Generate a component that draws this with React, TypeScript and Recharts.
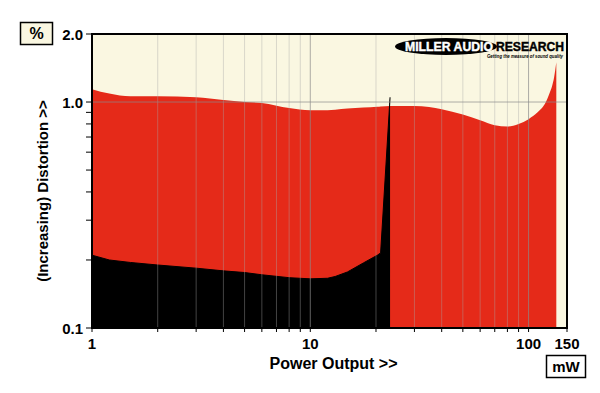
import { Area, CartesianGrid, ComposedChart, ReferenceLine, XAxis, YAxis } from "recharts"

// power output in mW (log axis)
const powerMw = [
    1, 1.2, 1.5, 2, 3, 4, 5, 6, 8, 10, 12, 13, 14.8, 17.5, 20.3, 21, 23.2, 25, 30, 35, 40, 50,
    60, 70, 80, 90, 100, 110, 120, 125, 128, 131, 134,
]

// upper (red) distortion trace, %
const thdUpper = [
    1.14, 1.09, 1.06, 1.06, 1.05, 1.02, 1.0, 0.99, 0.94, 0.92, 0.92, 0.925, 0.935, 0.945, 0.952, 0.955, 0.96, 0.96,
    0.96, 0.95, 0.93, 0.88, 0.83, 0.79, 0.78, 0.8, 0.84, 0.9, 1.0, 1.1, 1.17, 1.29, 1.5,
]

// lower (black) distortion trace, %, stops at the clipping spike
const thdLower = [
    0.21, 0.2, 0.195, 0.19, 0.184, 0.179, 0.176, 0.172, 0.167, 0.165, 0.166, 0.169, 0.177, 0.194, 0.21, 0.215, 1.05,
]

const xTicks = [1, 2, 3, 4, 5, 6, 7, 8, 9, 10, 20, 30, 40, 50, 60, 70, 80, 90, 100, 150]
const xLabels: Record<number, string> = { 1: "1", 10: "10", 100: "100", 150: "150" }
const yTicks = [0.1, 0.2, 0.3, 0.4, 0.5, 0.6, 0.7, 0.8, 0.9, 1, 2]
const yLabels: Record<number, string> = { 0.1: "0.1", 1: "1.0", 2.0: "2.0" }
const minorGrid = [2, 3, 4, 5, 6, 7, 8, 9, 20, 30, 40, 50, 60, 70, 80, 90]
const majorGrid = [10, 100]

const FONT = "'Liberation Sans', Arial, sans-serif"
const CREAM = "#faf7e1"
const RED = "#e52a19"

const data = powerMw.map((p, i) => ({
    p,
    upper: thdUpper[i],
    lower: i < thdLower.length ? thdLower[i] : null,
}))

// x tick: short mark under the axis, label only on decades
const XTick = (props: any) => {
    const { x, y, payload } = props
    const label = xLabels[payload.value]
    return (
        <g>
            <line x1={x} x2={x} y1={y - 10} y2={y - 6} stroke="#000" strokeWidth={1} />
            {label && (
                <text x={x} y={y + 11} textAnchor="middle" fontFamily={FONT} fontWeight="bold" fontSize={15} fill="#000">
                    {label}
                </text>
            )}
        </g>
    )
}

const YTick = (props: any) => {
    const { x, y, payload } = props
    const label = yLabels[payload.value]
    return (
        <g>
            <line x1={x + 3} x2={x + 8} y1={y} y2={y} stroke="#000" strokeWidth={1} />
            {label && (
                <text x={x} y={y + 5.5} textAnchor="end" fontFamily={FONT} fontWeight="bold" fontSize={15} fill="#000">
                    {label}
                </text>
            )}
        </g>
    )
}

const YTitle = () => (
    <text
        transform="translate(42,191) rotate(-90)"
        textAnchor="middle"
        dominantBaseline="central"
        fontFamily={FONT}
        fontWeight="bold"
        fontSize={15}
        fill="#000"
    >
        (Increasing) Distortion &gt;&gt;
    </text>
)

export default function App() {
    return (
        <div style={{ position: "absolute", left: 0, top: 0, width: 600, height: 393, background: "#fff" }}>
            <ComposedChart width={600} height={393} data={data} margin={{ top: 34, right: 33, bottom: 35, left: 32 }}>
                <CartesianGrid fill={CREAM} stroke="none" horizontal={false} vertical={false} />
                <XAxis
                    dataKey="p"
                    type="number"
                    scale="log"
                    domain={[1, 150]}
                    allowDataOverflow
                    ticks={xTicks}
                    interval={0}
                    tick={<XTick />}
                    tickLine={false}
                    axisLine={{ stroke: "#000" }}
                    tickSize={4}
                    tickMargin={6}
                    height={30}
                />
                <YAxis
                    type="number"
                    scale="log"
                    domain={[0.1, 2]}
                    allowDataOverflow
                    ticks={yTicks}
                    interval={0}
                    tick={<YTick />}
                    tickLine={false}
                    axisLine={{ stroke: "#000" }}
                    tickSize={5}
                    tickMargin={4}
                    width={60}
                    label={<YTitle />}
                />
                <Area
                    dataKey="upper"
                    type="monotone"
                    fill={RED}
                    fillOpacity={1}
                    stroke="none"
                    isAnimationActive={false}
                />
                <Area
                    dataKey="lower"
                    type="linear"
                    fill="#000"
                    fillOpacity={1}
                    stroke="#000"
                    strokeWidth={1}
                    isAnimationActive={false}
                />
                {minorGrid.map((g) => (
                    <ReferenceLine key={g} x={g} stroke="#a8a8a8" strokeOpacity={0.4} />
                ))}
                {majorGrid.map((g) => (
                    <ReferenceLine key={g} x={g} stroke="#8a8a8a" strokeOpacity={0.7} />
                ))}
                <ReferenceLine y={1} stroke="#8a8a8a" strokeOpacity={0.7} />
            </ComposedChart>
            <svg width={600} height={393} style={{ position: "absolute", left: 0, top: 0, pointerEvents: "none" }}>
                <rect x={92} y={34} width={475} height={294} fill="none" stroke="#000" strokeWidth={2} />
                <rect x={20.5} y={22.5} width={32} height={22} fill={CREAM} stroke="#000" strokeWidth={1.5} />
                <text x={36.5} y={39} textAnchor="middle" fontFamily={FONT} fontWeight="bold" fontSize={16}>
                    %
                </text>
                <rect x={546.5} y={355.5} width={39} height={22} fill="#fff" stroke="#000" strokeWidth={1.5} />
                <text x={566} y={372} textAnchor="middle" fontFamily={FONT} fontWeight="bold" fontSize={15}>
                    mW
                </text>
                <ellipse cx={446} cy={46.5} rx={51} ry={8.5} fill="#000" />
                <text
                    x={405}
                    y={51}
                    textLength={88}
                    lengthAdjust="spacingAndGlyphs"
                    fontFamily={FONT}
                    fontWeight="bold"
                    fontSize={12}
                    fill="#fff"
                    stroke="#fff"
                    strokeWidth={0.4}
                >
                    MILLER AUDIO
                </text>
                <text
                    x={496}
                    y={51}
                    textLength={68}
                    lengthAdjust="spacingAndGlyphs"
                    fontFamily={FONT}
                    fontWeight="bold"
                    fontSize={12}
                    fill="#000"
                    stroke="#000"
                    strokeWidth={0.4}
                >
                    RESEARCH
                </text>
                <text
                    x={487}
                    y={58}
                    textLength={76}
                    lengthAdjust="spacingAndGlyphs"
                    fontFamily={FONT}
                    fontWeight="bold"
                    fontStyle="italic"
                    fontSize={5.5}
                    fill="#000"
                >
                    Getting the measure of sound quality
                </text>
            </svg>
            <div
                style={{
                    position: "absolute",
                    left: 267,
                    top: 355,
                    width: 133,
                    textAlign: "center",
                    fontFamily: FONT,
                    fontWeight: "bold",
                    fontSize: 16,
                    lineHeight: "18px",
                }}
            >
                Power Output &gt;&gt;
            </div>
        </div>
    )
}
